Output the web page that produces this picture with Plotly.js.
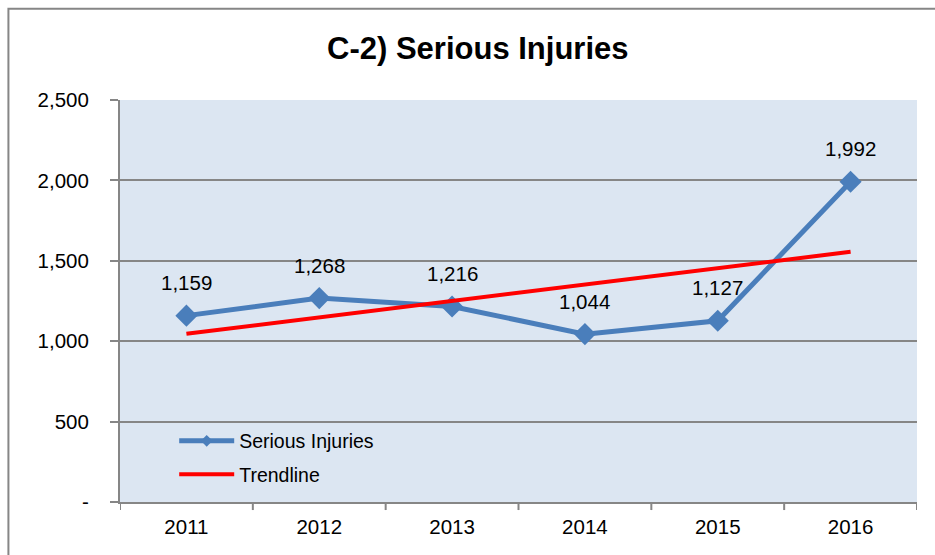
<!DOCTYPE html>
<html>
<head>
<meta charset="utf-8">
<script src="https://cdn.plot.ly/plotly-3.0.1.min.js"></script>
<style>
  body { margin: 0; background: #fff; }
  #chart { width: 935px; height: 555px; }
</style>
</head>
<body>
<div id="chart"></div>
<script>
var years = ['2011', '2012', '2013', '2014', '2015', '2016'];
var injuries = [1159, 1268, 1216, 1044, 1127, 1992];
var trend = [1046, 1148, 1250, 1352, 1454, 1556];
var yTicks = [0, 500, 1000, 1500, 2000, 2500];
var yTickText = ['-', '500', '1,000', '1,500', '2,000', '2,500'];

var blue = '#4a7ebb';
var red = '#ff0000';

function withComma(v) {
    return String(v).replace(/\B(?=(\d{3})+(?!\d))/g, ',');
}

var data = [
    {
        x : years,
        y : injuries,
        name : 'Serious Injuries',
        type : 'scatter',
        mode : 'lines+markers',
        line : { color : blue, width : 5 },
        marker : { symbol : 'diamond', size : 17, color : blue },
        showlegend : false
    },
    {
        x : years,
        y : trend,
        name : 'Trendline',
        type : 'scatter',
        mode : 'lines',
        line : { color : red, width : 4 },
        showlegend : false
    },
    // legend entries (smaller marker, like the original)
    {
        x : [null],
        y : [null],
        name : 'Serious Injuries',
        legendgroup : 'a',
        type : 'scatter',
        mode : 'lines+markers',
        line : { color : blue, width : 5 },
        marker : { symbol : 'diamond', size : 9, color : blue }
    },
    {
        x : [null],
        y : [null],
        name : 'Trendline',
        legendgroup : 'b',
        type : 'scatter',
        mode : 'lines',
        line : { color : red, width : 4 }
    }
];

// value labels above each point
var labels = [];
for (var k = 0; k < years.length; k++) {
    labels.push({
        xref : 'x',
        yref : 'y',
        x : k,
        y : injuries[k],
        text : withComma(injuries[k]),
        showarrow : false,
        yshift : 33,
        font : { size : 20.5, color : '#000000' }
    });
}

var layout = {
    width : 935,
    height : 555,
    title : {
        text : '<b>C-2) Serious Injuries</b>',
        font : { family : 'Liberation Sans, Arial', size : 31, color : '#000' },
        x : 0.511,
        xanchor : 'center',
        y : 0.913,
        yanchor : 'middle'
    },
    margin : { l : 120, r : 18, t : 100, b : 53 },
    paper_bgcolor : '#ffffff',
    plot_bgcolor : '#dce6f2',
    font : { family : 'Liberation Sans, Arial', size : 20, color : '#000' },
    showlegend : true,
    legend : {
        x : 0.068,
        y : 0.2,
        xanchor : 'left',
        yanchor : 'top',
        bgcolor : 'rgba(0,0,0,0)',
        font : { size : 19.5, color : '#000' },
        tracegroupgap : 5,
        itemwidth : 55
    },
    xaxis : {
        type : 'category',
        range : [-0.5, 5.5],
        showgrid : false,
        showline : true,
        linecolor : '#868686',
        linewidth : 2,
        ticks : '',
        tickfont : { size : 20.5 },
        ticklabelstandoff : 5,
        fixedrange : true
    },
    yaxis : {
        range : [0, 2500],
        tickvals : yTicks,
        ticktext : yTickText,
        showgrid : true,
        gridcolor : '#868686',
        gridwidth : 1.5,
        zeroline : false,
        showline : true,
        linecolor : '#868686',
        linewidth : 2,
        ticks : 'outside',
        ticklen : 8,
        tickcolor : '#868686',
        tickwidth : 2,
        tickfont : { size : 20.5 },
        ticklabelstandoff : 17,
        fixedrange : true
    },
    annotations : labels,
    shapes : [
        {
            type : 'rect',
            xref : 'paper', yref : 'paper',
            x0 : -0.140, x1 : 1.1, y0 : -0.3, y1 : 1.227,
            line : { color : '#868686', width : 2 },
            layer : 'below'
        }
    ]
};

// category boundary ticks on the x axis
for (var i = 0; i <= years.length; i++) {
    layout.shapes.push({
        type : 'line',
        xref : 'x', yref : 'paper',
        x0 : i - 0.5, x1 : i - 0.5,
        y0 : 0, y1 : -0.02,
        line : { color : '#868686', width : 2 }
    });
}

Plotly.newPlot('chart', data, layout, { displayModeBar : false });
</script>
</body>
</html>
